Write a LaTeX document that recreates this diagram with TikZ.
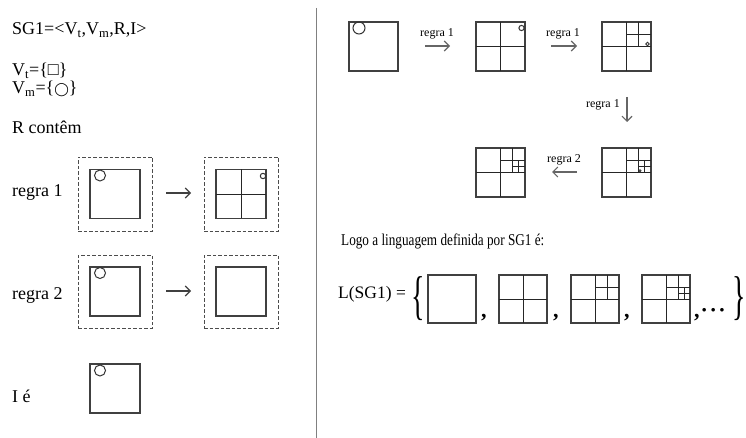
\documentclass[tikz,border=0pt]{standalone}
\usepackage{fontspec}
\usepackage{graphicx}
\setmainfont{Liberation Serif}
\newfontfamily\condfont[FakeStretch=0.8]{Liberation Serif}
\newfontfamily\symfont{DejaVu Sans}
\usetikzlibrary{arrows.meta}
\begin{document}
\begin{tikzpicture}[x=1pt,y=-1pt,
  sq/.style={draw=black!75,line width=1.1pt,minimum size=49pt,inner sep=0pt,outer sep=0pt,anchor=north west},
  isq/.style={sq,minimum width=50pt,minimum height=49pt,anchor=center},
  dbox/.style={draw=black!70,line width=0.9pt,dash pattern=on 3.5pt off 2pt,minimum width=74pt,minimum height=74pt,inner sep=0pt,outer sep=0pt,anchor=north west},
  inl/.style={draw=black!85,line width=0.8pt},
  circ/.style={draw=black!80,line width=1pt},
  arr/.style={draw=black!60,line width=1.1pt,-{Straight Barb[length=5pt,width=10pt]}},
  larr/.style={arr,draw=black!75},
  lbig/.style={font=\fontsize{18}{21}\selectfont,anchor=base west,inner sep=0pt},
  lsmall/.style={font=\fontsize{12}{14}\selectfont,inner sep=0pt,anchor=base},
  lmid/.style={font=\fontsize{17.5}{20}\selectfont,anchor=base west,inner sep=0pt},
  punct/.style={font=\fontsize{22}{22}\selectfont\bfseries,anchor=base west,inner sep=0pt},
  brace/.style={inner sep=0pt,font=\fontsize{28}{28}\selectfont},
  lvlone/.pic={\draw[inl] (.5,0)--(.5,1) (0,.5)--(1,.5);},
  lvltwo/.pic={\draw[inl] (.75,0)--(.75,.5) (.5,.25)--(1,.25);},
  lvlthree/.pic={\draw[inl] (.875,.25)--(.875,.5) (.75,.375)--(1,.375);}
]
\useasboundingbox (0,0) rectangle (746,438);

% divider
\coordinate (dtop) at (316.5,8);
\coordinate (dbot) at (316.5,438);
\draw[draw=black!50,line width=1.6pt] (dtop) -- (dbot);

% left texts
\node[lbig] (sg) at (12,35) {SG1=<V\textsubscript{t},V\textsubscript{m},R,I>};
\node[lbig] (vt) at (12,76) {V\textsubscript{t}=\{□\}};
\node[lbig] (vm) at (12,94) {V\textsubscript{m}=\{{\symfont\fontsize{13}{13}\selectfont ◯}\}};
\node[lbig] (rc) at (12,134) {R contêm};
\node[lbig] (r1) at (12,197) {regra 1};
\node[lbig] (r2) at (12,299) {regra 2};
\node[lbig] (ie) at (12,402) {I é};

% rule 1
\node[dbox] (d1) at (78,157) {};
\node[dbox] (d2) at (204,157) {};
\node[isq] (s1) at (d1.center) {};
\node[isq] (s2) at (d2.center) {};
\pic[x=50pt,y=-49pt] at (s2.north west) {lvlone};
\draw[circ] ([shift={(10,6)}]s1.north west) circle[radius=5.5pt];
\draw[circ] ([shift={(47,6.5)}]s2.north west) circle[radius=2.7pt];
\coordinate (a1s) at (166,193);
\coordinate (a1e) at (191,193);
\draw[larr] (a1s) -- (a1e);

% rule 2
\node[dbox,minimum height=73pt] (d3) at (78,255) {};
\node[dbox,minimum height=73pt] (d4) at (204,255) {};
\node[isq] (s3) at (d3.center) {};
\node[isq] (s4) at (d4.center) {};
\draw[circ] ([shift={(10,6)}]s3.north west) circle[radius=5.5pt];
\coordinate (a2s) at (166,291);
\coordinate (a2e) at (191,291);
\draw[larr] (a2s) -- (a2e);

% I
\node[sq,minimum width=50pt] (si) at (90,364) {};
\draw[circ] ([shift={(10,6.5)}]si.north west) circle[radius=5.5pt];

% derivation
\node[sq] (A) at (349,22) {};
\node[sq] (B) at (476,22) {};
\node[sq] (C) at (602,22) {};
\node[sq] (D) at (602,148) {};
\node[sq] (E) at (476,148) {};
\draw[circ] ([shift={(10,6)}]A.north west) circle[radius=6pt];
\pic[x=49pt,y=-49pt] at (B.north west) {lvlone};
\draw[circ] ([shift={(45.5,6)}]B.north west) circle[radius=2.6pt];
\pic[x=49pt,y=-49pt] at (C.north west) {lvlone};
\pic[x=49pt,y=-49pt] at (C.north west) {lvltwo};
\draw[circ,line width=0.8pt] ([shift={(45.5,22)}]C.north west) circle[radius=1.8pt];
\pic[x=49pt,y=-49pt] at (D.north west) {lvlone};
\pic[x=49pt,y=-49pt] at (D.north west) {lvltwo};
\pic[x=49pt,y=-49pt] at (D.north west) {lvlthree};
\draw[circ,line width=0.8pt] ([shift={(38,22.7)}]D.north west) circle[radius=1.1pt];
\pic[x=49pt,y=-49pt] at (E.north west) {lvlone};
\pic[x=49pt,y=-49pt] at (E.north west) {lvltwo};
\pic[x=49pt,y=-49pt] at (E.north west) {lvlthree};

\coordinate (b1s) at (425,46);
\coordinate (b1e) at (450,46);
\draw[arr] (b1s) -- (b1e);
\node[lsmall] (lb1) at (437,37) {regra 1};
\coordinate (b2s) at (551,46);
\coordinate (b2e) at (577,46);
\draw[arr] (b2s) -- (b2e);
\node[lsmall] (lb2) at (563,37) {regra 1};
\coordinate (b3s) at (627,97);
\coordinate (b3e) at (627,122);
\draw[arr] (b3s) -- (b3e);
\node[lsmall,anchor=base east] (lb3) at (620,108) {regra 1};
\coordinate (b4s) at (577,172);
\coordinate (b4e) at (552,172);
\draw[arr] (b4s) -- (b4e);
\node[lsmall] (lb4) at (564,163) {regra 2};

% language
\node[lmid,font=\fontsize{16.5}{20}\condfont] (logo) at (341,245) {Logo a linguagem definida por SG1 é:};
\node[lmid] (lsg) at (338,298) {L(SG1) =};
\node[brace] (lbr) at (418.5,299) {\scalebox{1}[1.9]{\{}};
\node[sq,minimum size=48pt] (L1) at (428,275) {};
\node[sq,minimum size=48pt] (L2) at (499,275) {};
\node[sq,minimum size=48pt] (L3) at (571,275) {};
\node[sq,minimum size=48pt] (L4) at (642,275) {};
\pic[x=48pt,y=-48pt] at (L2.north west) {lvlone};
\pic[x=48pt,y=-48pt] at (L3.north west) {lvlone};
\pic[x=48pt,y=-48pt] at (L3.north west) {lvltwo};
\pic[x=48pt,y=-48pt] at (L4.north west) {lvlone};
\pic[x=48pt,y=-48pt] at (L4.north west) {lvltwo};
\pic[x=48pt,y=-48pt] at (L4.north west) {lvlthree};
\node[punct] (c1) at (481,317) {,};
\node[punct] (c2) at (553,317) {,};
\node[punct] (c3) at (624,317) {,};
\node[punct] (c4) at (694,317) {,\hspace{1pt}·\hspace{1.5pt}·\hspace{1.5pt}·};
\node[brace] (rbr) at (739,299) {\scalebox{1}[1.9]{\}}};
\end{tikzpicture}
\end{document}
